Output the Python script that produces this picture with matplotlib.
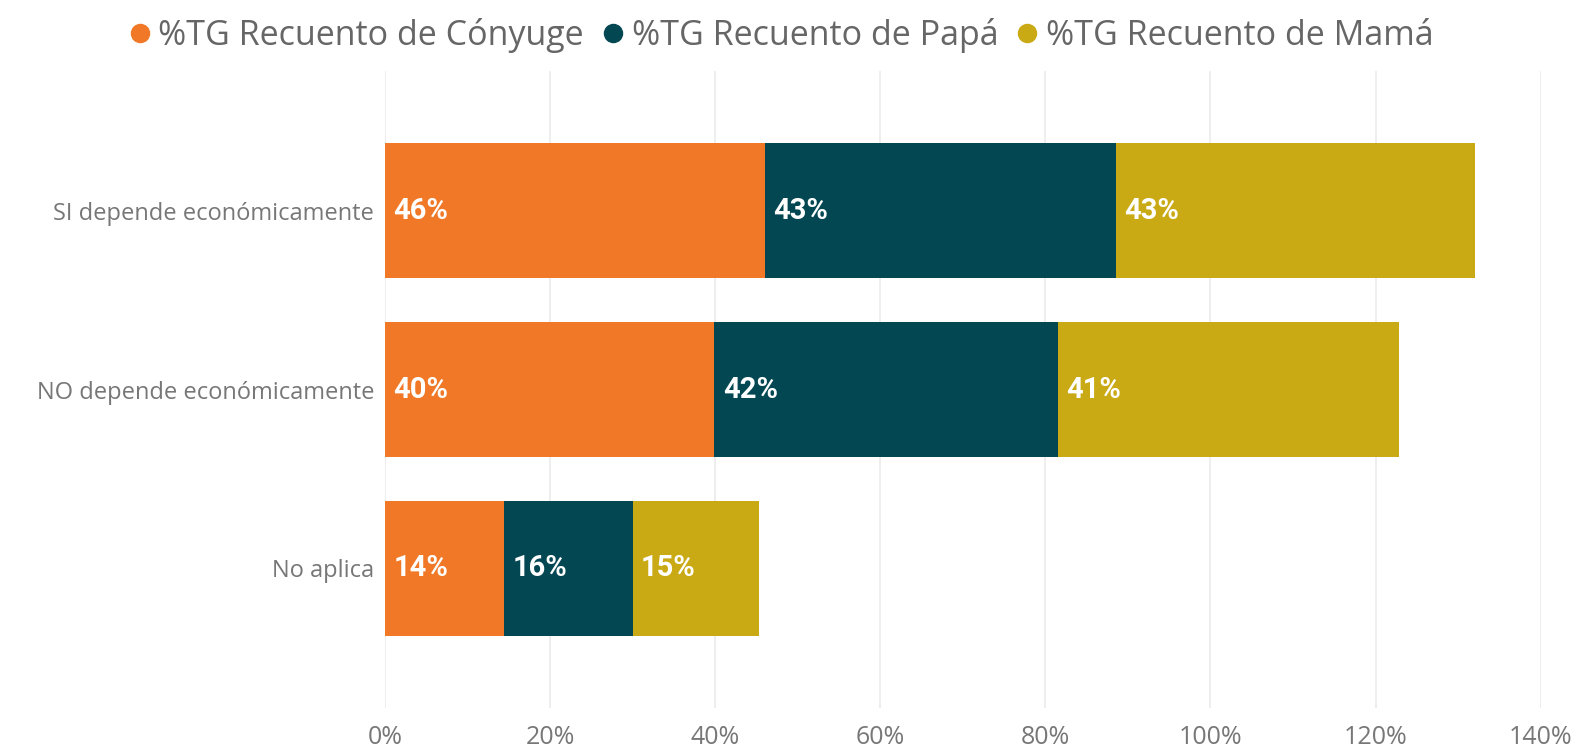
import matplotlib.pyplot as plt
from matplotlib.ticker import FuncFormatter
from matplotlib.lines import Line2D

categories = ['SI depende económicamente', 'NO depende económicamente', 'No aplica']
series_names = ['%TG Recuento de Cónyuge', '%TG Recuento de Papá', '%TG Recuento de Mamá']
conyuge = [46.0, 39.9, 14.4]
papa = [42.6, 41.6, 15.6]
mama = [43.4, 41.4, 15.3]
colors = ['#F07826', '#034752', '#C9A914']

fig = plt.figure(figsize=(15.85, 7.49), dpi=100)
ax = fig.add_axes([0.243, 0.0547, 0.729, 0.8503])

series = [conyuge, papa, mama]
ypos = range(len(categories))
left = [0.0] * len(categories)
for vals, col in zip(series, colors):
    bars = ax.barh(ypos, vals, left=left, height=0.755, color=col, zorder=2)
    for b, v, l in zip(bars, vals, left):
        ax.text(l + 1.0, b.get_y() + b.get_height() / 2, f'{round(v):.0f}%',
                va='center', ha='left', color='white', fontsize=21,
                fontweight='bold', fontfamily='Roboto', zorder=3)
    left = [a + b for a, b in zip(left, vals)]

ax.set_xlim(0, 140)
ax.set_ylim(2.78, -0.78)
ax.set_xticks(range(0, 141, 20))
ax.xaxis.set_major_formatter(FuncFormatter(lambda x, p: f'{x:.0f}%'))
ax.set_yticks(list(ypos))
ax.set_yticklabels(categories)
ax.grid(axis='x', color='#ebebeb', linewidth=1.2, zorder=0)
for s in ax.spines.values():
    s.set_visible(False)
ax.tick_params(axis='both', length=0, colors='#777777', labelsize=17)
ax.tick_params(axis='x', pad=12, labelsize=18)
ax.tick_params(axis='y', pad=8)
for t in ax.get_xticklabels() + ax.get_yticklabels():
    t.set_fontfamily('Open Sans')

handles = [Line2D([], [], marker='o', linestyle='', color=c, markersize=13) for c in colors]
fig.legend(handles, series_names, loc='center', bbox_to_anchor=(0.492, 0.953), ncol=3,
           frameon=False, handlelength=0.8, handletextpad=0.15, columnspacing=0.45,
           prop={'family': 'Open Sans', 'size': 24.5}, labelcolor='#666666')

fig.savefig('out.png', dpi=100)
